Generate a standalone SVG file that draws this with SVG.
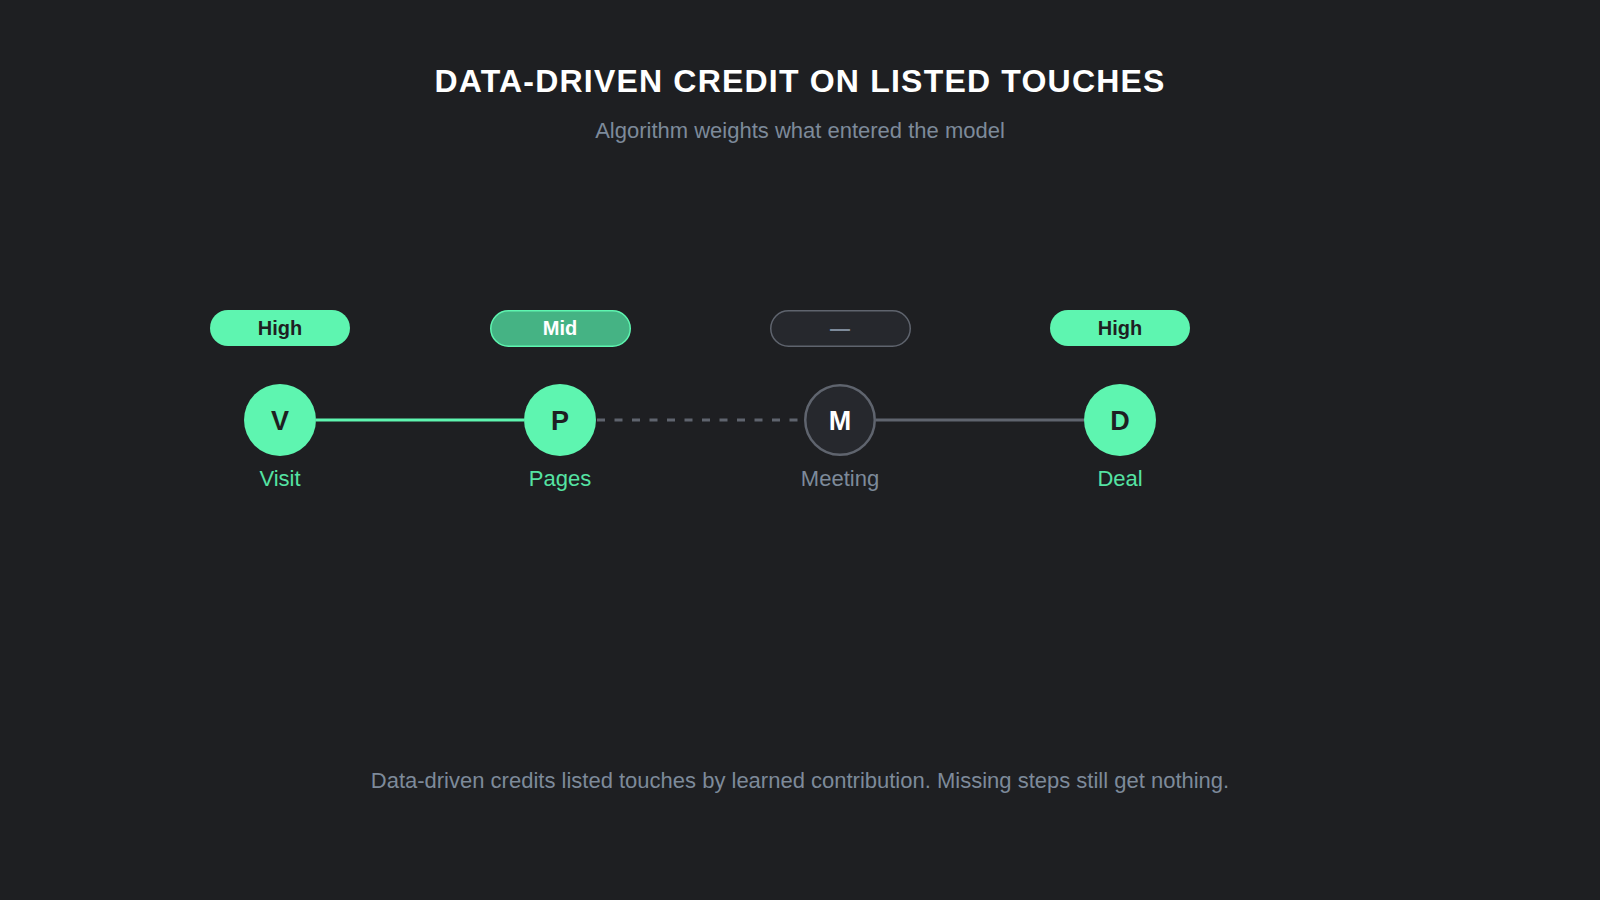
<svg xmlns="http://www.w3.org/2000/svg" width="1600" height="900" viewBox="0 0 1600 900">
  <style>
    .title { font-family: "Liberation Sans", Arial, sans-serif; font-weight: bold; font-size: 32px; fill: #ffffff; letter-spacing: 1.2px; }
    .sub { font-family: "Liberation Sans", Arial, sans-serif; font-size: 22px; fill: #7d8a9a; }
    .foot { font-family: "Liberation Sans", Arial, sans-serif; font-size: 22px; fill: #7d8a9a; }
    .pilltxt { font-family: "Liberation Sans", Arial, sans-serif; font-weight: bold; font-size: 20px; }
    .letter { font-family: "Liberation Sans", Arial, sans-serif; font-weight: bold; font-size: 27px; }
    .lbl { font-family: "Liberation Sans", Arial, sans-serif; font-size: 22px; }
    .on { fill: #55e3a3; }
    .dark { fill: #1e1f22; }
    .grey { fill: #7d8a9a; }
  </style>
  <rect x="0" y="0" width="1600" height="900" fill="#1e1f22"/>
  <text class="title" x="800" y="92" text-anchor="middle">DATA-DRIVEN CREDIT ON LISTED TOUCHES</text>
  <text class="sub" x="800" y="138" text-anchor="middle">Algorithm weights what entered the model</text>

  <g id="connectors">
    <line x1="316" y1="420" x2="524" y2="420" stroke="#5ef5b0" stroke-width="3"/>
    <line x1="597" y1="420" x2="804" y2="420" stroke="#5f646e" stroke-width="3" stroke-dasharray="8 9.5"/>
    <line x1="876" y1="420" x2="1084" y2="420" stroke="#5f646e" stroke-width="3"/>
  </g>

  <g id="node-visit">
    <rect x="210" y="310" width="140" height="36" rx="18" fill="#5ef5b0"/>
    <text class="pilltxt dark" x="280" y="335" text-anchor="middle">High</text>
    <circle cx="280" cy="420" r="36" fill="#5ef5b0"/>
    <text class="letter dark" x="280" y="430" text-anchor="middle">V</text>
    <text class="lbl on" x="280" y="486" text-anchor="middle">Visit</text>
  </g>

  <g id="node-pages">
    <rect x="490.75" y="310.75" width="139.5" height="35.5" rx="17.75" fill="#45b384" stroke="#5ef5b0" stroke-width="1.5"/>
    <text class="pilltxt" x="560" y="335" text-anchor="middle" fill="#ffffff">Mid</text>
    <circle cx="560" cy="420" r="36" fill="#5ef5b0"/>
    <text class="letter dark" x="560" y="430" text-anchor="middle">P</text>
    <text class="lbl on" x="560" y="486" text-anchor="middle">Pages</text>
  </g>

  <g id="node-meeting">
    <rect x="770.75" y="310.75" width="139.5" height="35.5" rx="17.75" fill="#26282d" stroke="#5f646e" stroke-width="1.5"/>
    <text class="pilltxt grey" x="840" y="335" text-anchor="middle">—</text>
    <circle cx="840" cy="420" r="34.75" fill="#26282d" stroke="#5f646e" stroke-width="2.5"/>
    <text class="letter" x="840" y="430" text-anchor="middle" fill="#ffffff">M</text>
    <text class="lbl grey" x="840" y="486" text-anchor="middle">Meeting</text>
  </g>

  <g id="node-deal">
    <rect x="1050" y="310" width="140" height="36" rx="18" fill="#5ef5b0"/>
    <text class="pilltxt dark" x="1120" y="335" text-anchor="middle">High</text>
    <circle cx="1120" cy="420" r="36" fill="#5ef5b0"/>
    <text class="letter dark" x="1120" y="430" text-anchor="middle">D</text>
    <text class="lbl on" x="1120" y="486" text-anchor="middle">Deal</text>
  </g>

  <text class="foot" x="800" y="788" text-anchor="middle">Data-driven credits listed touches by learned contribution. Missing steps still get nothing.</text>
</svg>
